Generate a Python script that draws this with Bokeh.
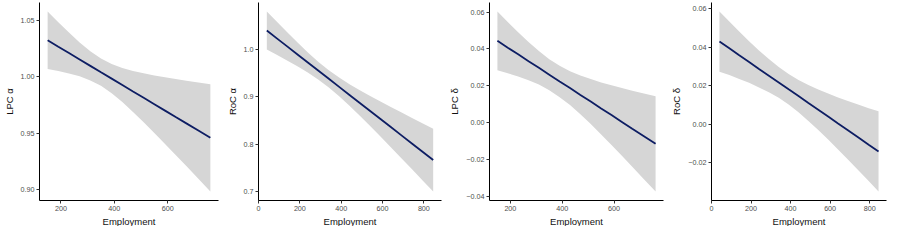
from bokeh.plotting import figure
from bokeh.layouts import row
from bokeh.models import Range1d, FixedTicker, ColumnDataSource, Title
from bokeh.embed import file_html
from bokeh.resources import INLINE

# ---- data ----
lpc_x = [150, 190, 230, 270, 310, 350, 390, 430, 470, 510, 550, 590, 630, 670, 715, 760]
roc_x = [40, 90, 140, 190, 240, 290, 340, 390, 440, 490, 540, 590, 640, 690, 745, 795, 845]

lpc_alpha_fit = [1.0325, 1.0268, 1.0212, 1.0155, 1.0098, 1.0041, 0.9985, 0.9928,
                 0.9871, 0.9815, 0.9758, 0.9701, 0.9644, 0.9588, 0.9524, 0.9460]
lpc_alpha_upper = [1.0580, 1.0485, 1.0393, 1.0306, 1.0227, 1.0163, 1.0114, 1.0079,
                   1.0052, 1.0032, 1.0013, 0.9996, 0.9982, 0.9967, 0.9951, 0.9936]
lpc_alpha_lower = [1.0070, 1.0052, 1.0031, 1.0005, 0.9969, 0.9921, 0.9856, 0.9778,
                   0.9690, 0.9599, 0.9503, 0.9406, 0.9308, 0.9209, 0.9097, 0.8984]

roc_alpha_fit = [1.0390, 1.0221, 1.0052, 0.9883, 0.9714, 0.9545, 0.9376, 0.9207, 0.9038,
                 0.8869, 0.8700, 0.8532, 0.8363, 0.8194, 0.8008, 0.7839, 0.7670]
roc_alpha_upper = [1.0790, 1.0567, 1.0347, 1.0132, 0.9925, 0.9732, 0.9556, 0.9402, 0.9263,
                   0.9136, 0.9016, 0.8900, 0.8785, 0.8673, 0.8550, 0.8440, 0.8330]
roc_alpha_lower = [0.9990, 0.9875, 0.9757, 0.9634, 0.9503, 0.9358, 0.9196, 0.9012, 0.8813,
                   0.8602, 0.8386, 0.8165, 0.7941, 0.7715, 0.7466, 0.7238, 0.7010]

lpc_delta_fit = [0.0444, 0.0407, 0.0371, 0.0334, 0.0298, 0.0261, 0.0224, 0.0188,
                 0.0151, 0.0115, 0.0078, 0.0042, 0.0005, -0.0032, -0.0073, -0.0114]
lpc_delta_upper = [0.0603, 0.0546, 0.0491, 0.0438, 0.0389, 0.0345, 0.0309, 0.0280,
                   0.0256, 0.0237, 0.0219, 0.0204, 0.0188, 0.0174, 0.0159, 0.0144]
lpc_delta_lower = [0.0285, 0.0268, 0.0251, 0.0231, 0.0207, 0.0177, 0.0139, 0.0096,
                   0.0046, -0.0007, -0.0063, -0.0120, -0.0178, -0.0238, -0.0305, -0.0372]

roc_delta_fit = [0.0430, 0.0395, 0.0359, 0.0324, 0.0288, 0.0253, 0.0218, 0.0182, 0.0147,
                 0.0111, 0.0076, 0.0041, 0.0005, -0.0030, -0.0069, -0.0105, -0.0140]
roc_delta_upper = [0.0586, 0.0534, 0.0482, 0.0432, 0.0384, 0.0339, 0.0298, 0.0262, 0.0231,
                   0.0204, 0.0181, 0.0160, 0.0140, 0.0122, 0.0102, 0.0084, 0.0068]
roc_delta_lower = [0.0274, 0.0256, 0.0236, 0.0216, 0.0192, 0.0167, 0.0138, 0.0103, 0.0063,
                   0.0018, -0.0029, -0.0078, -0.0130, -0.0182, -0.0240, -0.0294, -0.0348]

lpc_x_ticks = [200, 400, 600]
roc_x_ticks = [0, 200, 400, 600, 800]

lpc_alpha_ticks = [0.90, 0.95, 1.00, 1.05]
lpc_alpha_labels = ["0.90", "0.95", "1.00", "1.05"]
roc_alpha_ticks = [0.7, 0.8, 0.9, 1.0]
roc_alpha_labels = ["0.7", "0.8", "0.9", "1.0"]
lpc_delta_ticks = [-0.04, -0.02, 0.0, 0.02, 0.04, 0.06]
lpc_delta_labels = ["\u22120.04", "\u22120.02", "0.00", "0.02", "0.04", "0.06"]
roc_delta_ticks = [-0.02, 0.0, 0.02, 0.04, 0.06]
roc_delta_labels = ["\u22120.02", "0.00", "0.02", "0.04", "0.06"]

x_title = "Employment"
y_titles = ["LPC \u03b1", "RoC \u03b1", "LPC \u03b4", "RoC \u03b4"]

FONT = "Liberation Sans"
LINE_COLOR = "#0d1d63"
BAND_COLOR = "#d6d6d6"

panels = [
    dict(x=lpc_x, fit=lpc_alpha_fit, up=lpc_alpha_upper, lo=lpc_alpha_lower,
         xt=lpc_x_ticks, yt=lpc_alpha_ticks, yl=lpc_alpha_labels, title=y_titles[0],
         width=223, left=36),
    dict(x=roc_x, fit=roc_alpha_fit, up=roc_alpha_upper, lo=roc_alpha_lower,
         xt=roc_x_ticks, yt=roc_alpha_ticks, yl=roc_alpha_labels, title=y_titles[1],
         width=223, left=31),
    dict(x=lpc_x, fit=lpc_delta_fit, up=lpc_delta_upper, lo=lpc_delta_lower,
         xt=lpc_x_ticks, yt=lpc_delta_ticks, yl=lpc_delta_labels, title=y_titles[2],
         width=222, left=40),
    dict(x=roc_x, fit=roc_delta_fit, up=roc_delta_upper, lo=roc_delta_lower,
         xt=roc_x_ticks, yt=roc_delta_ticks, yl=roc_delta_labels, title=y_titles[3],
         width=223, left=39),
]


def expand(lo, hi, f=0.05):
    d = (hi - lo) * f
    return lo - d, hi + d


figs = []
for pn in panels:
    x0, x1 = expand(min(pn["x"]), max(pn["x"]))
    y0, y1 = expand(min(pn["lo"]), max(pn["up"]))
    p = figure(width=pn["width"], height=226, output_backend="svg", toolbar_location=None,
               x_range=Range1d(x0, x1), y_range=Range1d(y0, y1),
               min_border_left=pn["left"], min_border_right=5,
               min_border_top=2, min_border_bottom=0)
    p.outline_line_color = None
    p.xgrid.visible = False
    p.ygrid.visible = False
    p.background_fill_color = "white"
    p.border_fill_color = "white"

    src = ColumnDataSource(dict(x=pn["x"], fit=pn["fit"], up=pn["up"], lo=pn["lo"]))
    p.varea(x="x", y1="lo", y2="up", source=src, fill_color=BAND_COLOR, fill_alpha=1.0)
    p.line(x="x", y="fit", source=src, line_color=LINE_COLOR, line_width=1.8)

    for ax in (p.xaxis[0], p.yaxis[0]):
        ax.axis_line_color = "black"
        ax.axis_line_width = 1
        ax.major_tick_line_color = "#333333"
        ax.major_tick_line_width = 1
        ax.major_tick_out = 3
        ax.major_tick_in = 0
        ax.minor_tick_line_color = None
        ax.major_label_text_font = FONT
        ax.major_label_text_font_size = "7.2px"
        ax.major_label_text_color = "#4d4d4d"
        ax.major_label_standoff = 2
        ax.axis_label_text_font = FONT
        ax.axis_label_text_font_size = "9.5px"
        ax.axis_label_text_font_style = "normal"
        ax.axis_label_text_color = "#111111"
        ax.axis_label_standoff = 3

    p.xaxis[0].ticker = FixedTicker(ticks=pn["xt"])
    p.yaxis[0].ticker = FixedTicker(ticks=pn["yt"])
    p.yaxis[0].major_label_overrides = {t: l for t, l in zip(pn["yt"], pn["yl"])}
    p.yaxis[0].axis_label = pn["title"]

    t = Title(text=x_title, align="center", text_font=FONT, text_font_size="9.5px",
              text_font_style="normal", text_color="#111111", text_line_height=0.6,
              vertical_align="bottom")
    try:
        t.standoff = 0
    except AttributeError:
        pass
    p.add_layout(t, "below")
    figs.append(p)

layout = row(*figs)
open("out.html", "w").write(file_html(layout, INLINE))
